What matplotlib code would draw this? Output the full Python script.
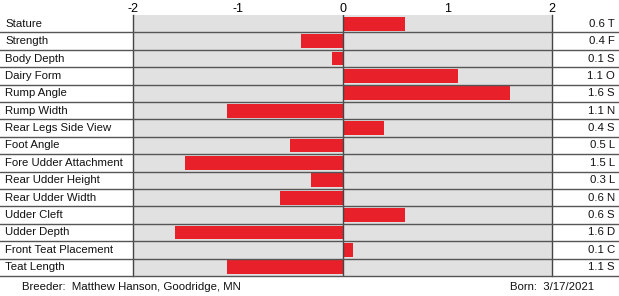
import matplotlib
matplotlib.use("Agg")
import matplotlib.pyplot as plt

traits = ["Stature", "Strength", "Body Depth", "Dairy Form", "Rump Angle", "Rump Width",
          "Rear Legs Side View", "Foot Angle", "Fore Udder Attachment", "Rear Udder Height",
          "Rear Udder Width", "Udder Cleft", "Udder Depth", "Front Teat Placement", "Teat Length"]
values = [0.6, -0.4, -0.1, 1.1, 1.6, -1.1, 0.4, -0.5, -1.5, -0.3, -0.6, 0.6, -1.6, 0.1, -1.1]
value_labels = ["0.6 T", "0.4 F", "0.1 S", "1.1 O", "1.6 S", "1.1 N", "0.4 S", "0.5 L",
                "1.5 L", "0.3 L", "0.6 N", "0.6 S", "1.6 D", "0.1 C", "1.1 S"]
ticks = [-2, -1, 0, 1, 2]
breeder = "Breeder:  Matthew Hanson, Goodridge, MN"
born = "Born:  3/17/2021"

plt.rcParams['font.family'] = ['Liberation Sans', 'DejaVu Sans']
fs = 8.2

W, H = 619, 296
fig = plt.figure(figsize=(W / 100, H / 100), dpi=100)
x0, x1 = 133, 552
y0, y1 = 15, 276
ax = fig.add_axes([x0 / W, 1 - y1 / H, (x1 - x0) / W, (y1 - y0) / H])
ax.set_facecolor("#e1e1e1")
n = len(traits)
ax.set_xlim(-2, 2)
ax.set_ylim(n, 0)
ypos = [i + 0.5 for i in range(n)]
ax.barh(ypos, values, height=0.8, color="#e8202a", zorder=2)

ax.axvline(0, color="#444444", lw=1.0, zorder=3)
for s in ["top", "bottom"]:
    ax.spines[s].set_visible(False)
for s in ["left", "right"]:
    ax.spines[s].set_color("#444444")
    ax.spines[s].set_linewidth(1.0)

ax.xaxis.tick_top()
ax.set_xticks(ticks)
ax.set_xticklabels([str(t) for t in ticks], fontsize=9)
ax.tick_params(axis="x", length=0, pad=0)
ax.set_yticks([])

left_frac = -x0 / (x1 - x0)
right_frac = 1 + (W - x1) / (x1 - x0)
tr = ax.get_yaxis_transform()
for i in range(1, n + 1):
    ax.plot([left_frac, right_frac], [i, i], transform=tr, color="#555555",
            lw=1.0, clip_on=False, zorder=4)

for i, (t, v) in enumerate(zip(traits, value_labels)):
    ax.text(-128 / (x1 - x0), i + 0.5, t, transform=tr, ha="left", va="center",
            fontsize=fs, color="#111111")
    ax.text(1 + 63 / (x1 - x0), i + 0.5, v, transform=tr, ha="right", va="center",
            fontsize=fs, color="#111111")

fig.text(22 / W, 1 - 287 / H, breeder, ha="left", va="center", fontsize=fs, color="#111111")
fig.text(594 / W, 1 - 287 / H, born, ha="right", va="center", fontsize=fs, color="#111111")

fig.savefig("out.png", dpi=100)
